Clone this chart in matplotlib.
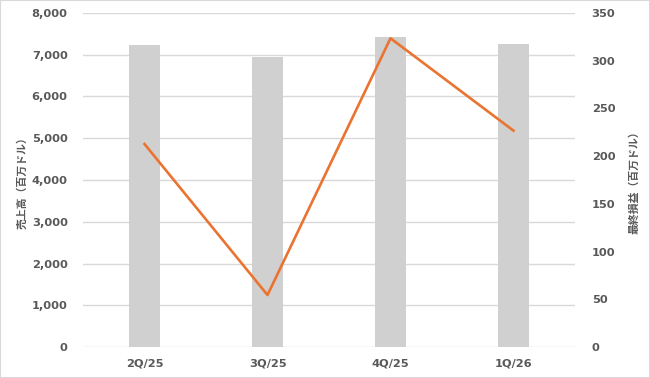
import matplotlib.pyplot as plt
from matplotlib.patches import Rectangle
from matplotlib.ticker import FuncFormatter

quarters = ['2Q/25', '3Q/25', '4Q/25', '1Q/26']
revenue = [7234, 6946, 7432, 7250]      # 売上高（百万ドル）
net_income = [212.7, 54.5, 323.5, 226.7]  # 最終損益（百万ドル）

grey_txt = '#595959'
plt.rcParams['font.family'] = ['DejaVu Sans', 'Noto Sans CJK JP']

fig = plt.figure(figsize=(6.5, 3.78), dpi=100)
ax = fig.add_axes([83 / 650, 1 - 347 / 378, (575 - 83) / 650, (347 - 13) / 378])

x = range(len(quarters))
ax.bar(x, revenue, width=0.26, color='#D0D0D0', zorder=2)
ax.set_ylim(0, 8000)
ax.set_xlim(-0.5, len(quarters) - 0.5)
ax.set_yticks(range(0, 8001, 1000))
ax.yaxis.set_major_formatter(FuncFormatter(lambda v, p: f'{int(v):,}'))
ax.grid(axis='y', color='#D9D9D9', linewidth=1, zorder=0)
ax.set_xticks(list(x))
ax.set_xticklabels(quarters)
for s in ax.spines.values():
    s.set_visible(False)
ax.tick_params(length=0, labelsize=8.2, labelcolor=grey_txt, pad=11)
ax.tick_params(axis='x', pad=8)
for lbl in ax.get_xticklabels() + ax.get_yticklabels():
    lbl.set_fontweight('bold')
ax.set_ylabel('売上高（百万ドル）', family=['Noto Sans CJK JP', 'DejaVu Sans'],
              fontsize=7.8, fontweight='bold', color=grey_txt, labelpad=3)

ax2 = ax.twinx()
ax2.plot(x, net_income, color='#EB7330', linewidth=1.9, zorder=3)
ax2.set_ylim(0, 350)
ax2.set_yticks(range(0, 351, 50))
for s in ax2.spines.values():
    s.set_visible(False)
ax2.tick_params(length=0, labelsize=8.2, labelcolor=grey_txt, pad=12)
for lbl in ax2.get_yticklabels():
    lbl.set_fontweight('bold')
ax2.set_ylabel('最終損益（百万ドル）', family=['Noto Sans CJK JP', 'DejaVu Sans'],
               fontsize=7.8, fontweight='bold', color=grey_txt, labelpad=10)

fig.patches.append(Rectangle((0, 0), 1, 1, transform=fig.transFigure,
                             fill=False, edgecolor='#D9D9D9', linewidth=1.5))

fig.savefig('out.png', dpi=100)
